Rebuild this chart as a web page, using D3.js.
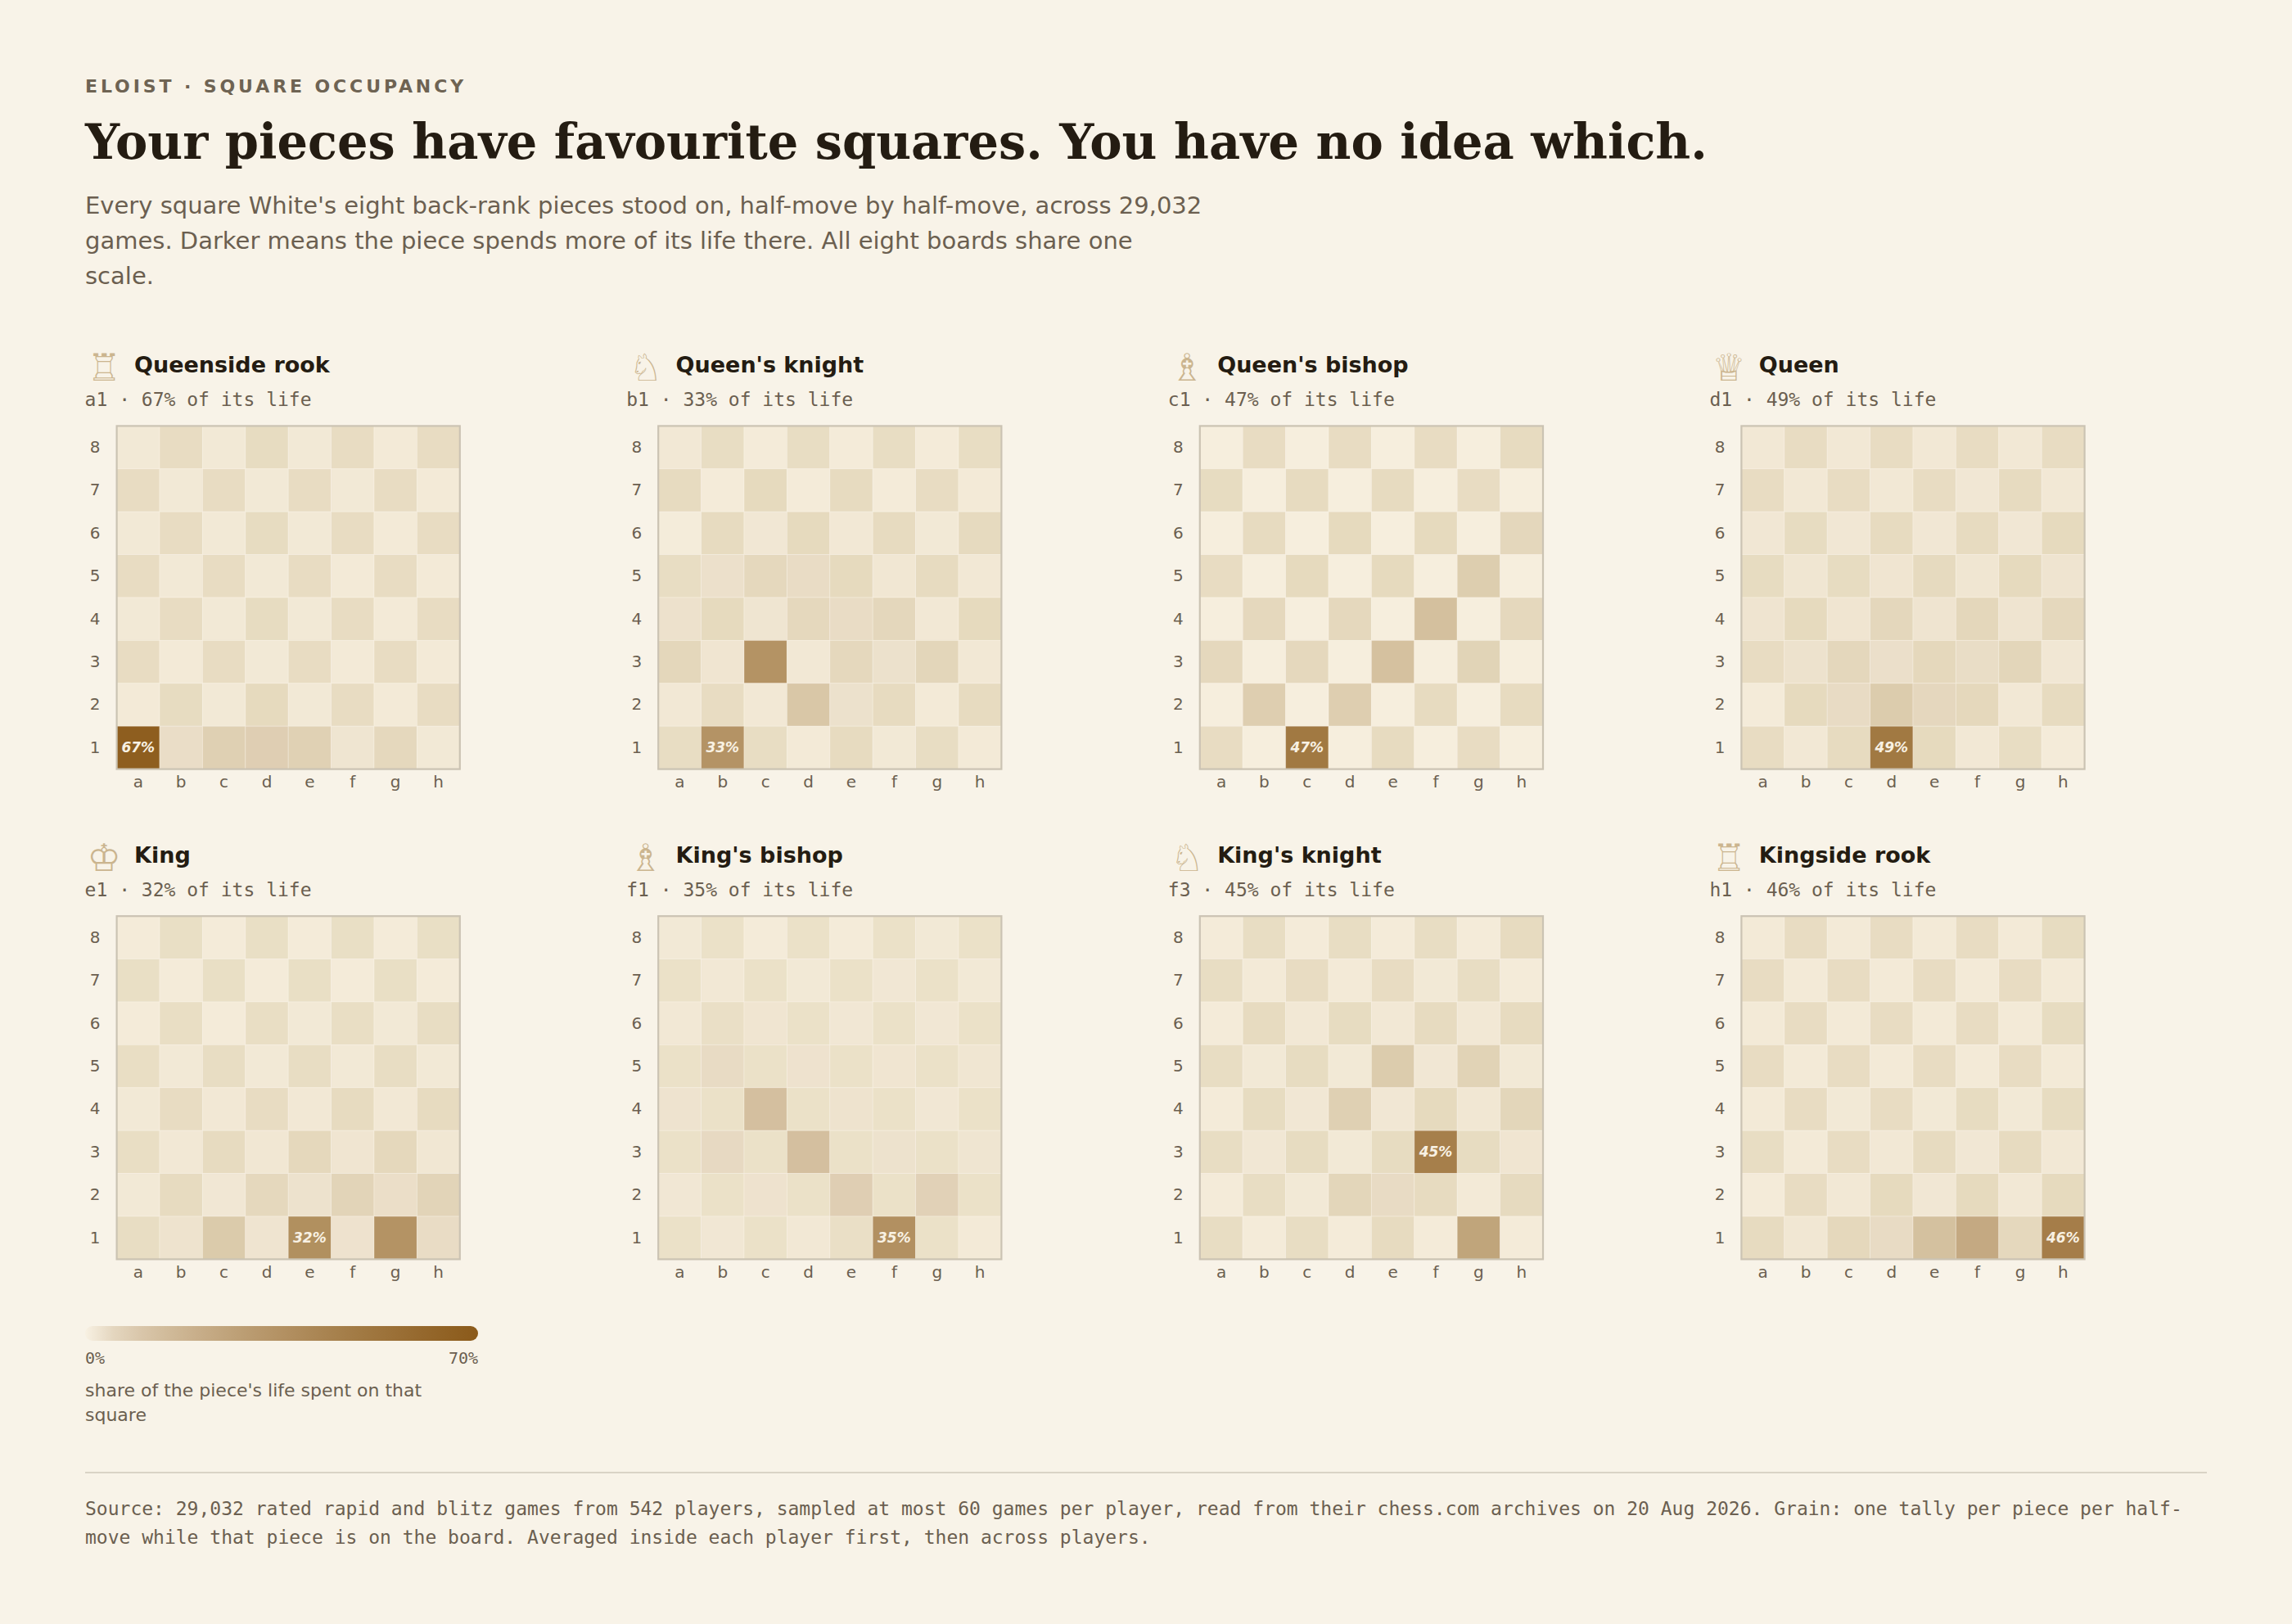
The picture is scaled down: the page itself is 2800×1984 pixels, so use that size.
<!DOCTYPE html>
<html>
<head>
<meta charset="utf-8">
<script src="https://cdn.jsdelivr.net/npm/d3@7"></script>
<style>
html,body{margin:0;padding:0;background:#f8f3e8;}
svg{display:block;}
</style>
</head>
<body>
<svg id="chart"></svg>
<script>
// ---------- DATA ----------
const files = ["a","b","c","d","e","f","g","h"];
const ranks = [8,7,6,5,4,3,2,1];

const pieceNames = ["Queenside rook","Queen's knight","Queen's bishop","Queen","King","King's bishop","King's knight","Kingside rook"];
const pieceGlyphs = ["\u2656","\u2658","\u2657","\u2655","\u2654","\u2657","\u2658","\u2656"];

// share of life (%) per square, rows = rank 8 .. rank 1, columns = files a .. h
const queensideRook = [
  0.4,0.4,0.4,0.5,0.4,0.4,0.3,0.4,
  0.4,0.4,0.4,0.4,0.4,0.4,0.4,0.3,
  0.4,0.4,0.4,0.5,0.4,0.4,0.3,0.4,
  0.4,0.4,0.4,0.4,0.4,0.3,0.4,0.3,
  0.4,0.4,0.4,0.5,0.4,0.4,0.3,0.4,
  0.4,0.3,0.4,0.4,0.4,0.3,0.4,0.3,
  0.3,0.5,0.4,0.8,0.4,0.4,0.3,0.4,
  67,2.4,2.8,6.5,2.6,1.0,1.0,0.4
];
const queensKnight = [
  0.5,0.3,0.2,0.3,0.2,0.3,0.2,0.3,
  0.6,0.2,0.8,0.2,0.6,0.2,0.4,0.3,
  0.1,0.6,0.6,0.8,0.5,0.6,0.4,0.7,
  0.3,1.8,1.0,2.7,0.8,0.7,0.6,0.5,
  1.6,0.8,1.0,1.0,2.7,1.2,0.5,0.8,
  1.3,0.9,30,0.5,1.0,1.7,1.4,0.5,
  0.5,0.4,0.5,5.4,1.7,0.6,0.3,0.6,
  0.3,33,0.3,0.3,0.6,0.4,0.3,0.3
];
const queensBishop = [
  0,0.4,0,0.4,0,0.4,0,0.6,
  0.5,0,0.6,0,0.6,0,0.4,0,
  0,0.6,0,0.8,0,0.8,0,1.2,
  0.4,0,0.8,0,0.8,0,3.5,0,
  0,1.0,0,1.0,0,8,0,1.0,
  1.0,0,1.0,0,7.5,0,2.0,0,
  0,3.4,0,3.4,0,0.6,0,0.6,
  0.4,0,47,0,0.6,0,0.4,0
];
const queen = [
  0.5,0.4,0.5,0.4,0.5,0.4,0.5,0.4,
  0.4,0.5,0.4,0.5,0.4,0.6,0.6,0.5,
  0.6,0.5,0.6,0.6,0.6,0.6,0.6,0.8,
  0.5,0.8,0.5,0.9,0.7,0.8,0.8,1.1,
  1.1,0.8,0.9,1.2,1.1,1.3,1.1,1.0,
  0.4,1.5,1.2,2.0,1.1,2.6,1.4,0.6,
  0.2,0.8,3.0,4.0,4.1,1.1,0.5,0.6,
  0.4,0.5,0.6,49,0.8,0.5,0.3,0.2
];
const king = [
  0.15,0.15,0.15,0.15,0.15,0.15,0.15,0.15,
  0.15,0.15,0.15,0.15,0.15,0.15,0.15,0.15,
  0.15,0.2,0.15,0.2,0.4,0.2,0.4,0.3,
  0.2,0.4,0.3,0.4,0.3,0.4,0.3,0.4,
  0.4,0.4,0.5,0.4,0.5,0.6,0.5,0.6,
  0.2,0.5,0.6,0.7,1.1,0.9,1.1,0.7,
  0.4,0.6,0.6,1.0,1.5,1.8,2.2,1.8,
  0.3,1.3,4.4,1.1,32,1.4,30,2.7
];
const kingsBishop = [
  0.4,0,0.15,0,0.2,0,0.4,0,
  0,0.5,0,0.4,0,0.6,0,0.4,
  0.5,0.1,0.9,0,0.6,0,0.6,0,
  0,3.0,0,1.4,0,0.9,0,0.8,
  1.2,0,12,0,1.3,0,0.6,0,
  0,3.4,0,12,0,1.5,0,1.0,
  0.6,0,1.4,0,6.6,0,5.7,0,
  0,0.6,0,0.5,0.1,35,0,0.3
];
const kingsKnight = [
  0.2,0.3,0.2,0.3,0.2,0.3,0.2,0.6,
  0.3,0.3,0.4,0.3,0.4,0.4,0.3,0.2,
  0.2,0.6,0.5,0.5,0.5,0.6,0.5,0.6,
  0.3,0.4,0.5,0.4,4.0,0.6,2.1,0.4,
  0.2,0.5,0.6,2.8,0.6,0.8,0.7,1.4,
  0.3,0.6,0.5,0.4,0.5,45,0.5,0.9,
  0.2,0.3,0.4,1.5,3.0,0.6,0.3,0.7,
  0.3,0.2,0.3,0.2,0.6,0.2,20,0.2
];
const kingsideRook = [
  0.3,0.4,0.3,0.4,0.3,0.4,0.3,0.5,
  0.4,0.3,0.4,0.3,0.4,0.3,0.4,0.3,
  0.3,0.4,0.3,0.4,0.3,0.4,0.3,0.5,
  0.4,0.3,0.4,0.3,0.4,0.3,0.4,0.3,
  0.3,0.4,0.4,0.4,0.4,0.5,0.4,0.5,
  0.3,0.3,0.4,0.5,0.6,0.6,0.6,0.5,
  0.2,0.4,0.5,0.8,0.6,0.8,0.5,0.8,
  0.6,0.7,1.1,3.0,7.6,21.7,1.0,46
];
const boards = [queensideRook, queensKnight, queensBishop, queen, king, kingsBishop, kingsKnight, kingsideRook];

const legendTicks = ["0%","70%"];
const subtitleLines = [
  "Every square White's eight back-rank pieces stood on, half-move by half-move, across 29,032",
  "games. Darker means the piece spends more of its life there. All eight boards share one",
  "scale."
];
const legendLabelLines = ["share of the piece's life spent on that","square"];
const footerLines = [
  "Source: 29,032 rated rapid and blitz games from 542 players, sampled at most 60 games per player, read from their chess.com archives on 20 Aug 2026. Grain: one tally per piece per half-",
  "move while that piece is on the board. Averaged inside each player first, then across players."
];

// ---------- STYLE ----------
const W = 1400, H = 992;
const BG = "#f8f3e8";
const LIGHT_BASE = "#f6eedd", DARK_BASE = "#ebe1c8", LEGEND_BASE = "#f8f1e3", TOP = "#8b5a1a";
const INK = "#241c12", MUTED = "#6b5f50";
const SANS = "'DejaVu Sans', sans-serif", SERIF = "'DejaVu Serif', serif", MONO = "'DejaVu Sans Mono', monospace";

const svg = d3.select("#chart")
  .attr("width", 2800).attr("height", 1984)
  .attr("viewBox", `0 0 ${W} ${H}`);
svg.append("rect").attr("width", W).attr("height", H).attr("fill", BG);

// header
svg.append("text").attr("x", 52).attr("y", 56.5)
  .attr("font-family", SANS).attr("font-weight", "bold").attr("font-size", 11)
  .attr("letter-spacing", 1.95).attr("fill", "#6e6353")
  .text("ELOIST \u00b7 SQUARE OCCUPANCY");
svg.append("text").attr("x", 52).attr("y", 97)
  .attr("font-family", SERIF).attr("font-weight", "bold").attr("font-size", 29.5)
  .attr("fill", INK)
  .text("Your pieces have favourite squares. You have no idea which.");
svg.append("g").selectAll("text").data(subtitleLines).join("text")
  .attr("x", 52).attr("y", (d, i) => 130.5 + i * 21.6)
  .attr("font-family", SANS).attr("font-size", 14.5).attr("fill", MUTED)
  .text(d => d);

// scales
const tScale = d3.scalePow().exponent(0.65).domain([0, 70]).range([0, 1]).clamp(true);
const BOARD = 209.6;
const x = d3.scaleBand().domain(files).range([0, BOARD]);
const y = d3.scaleBand().domain(ranks).range([0, BOARD]);
const colX = d3.scaleLinear().domain([0, 3]).range([71.3, 71.3 + 3 * 330.8]);
const rowY = d3.scaleLinear().domain([0, 1]).range([260.2, 559.6]);

const cellColor = (v, dark) => d3.interpolateRgb(dark ? DARK_BASE : LIGHT_BASE, TOP)(tScale(v));

boards.forEach((vals, i) => {
  const bx = colX(i % 4), by = rowY(Math.floor(i / 4));
  const cells = vals.map((v, k) => {
    const fi = k % 8, ri = Math.floor(k / 8);
    const rank = ranks[ri];
    return { file: files[fi], rank, v, dark: (fi + rank) % 2 === 1 };
  });
  const peak = cells.reduce((a, b) => (b.v > a.v ? b : a));

  const g = svg.append("g").attr("transform", `translate(${bx},${by})`);

  // header
  g.append("text").attr("x", -18).attr("y", -27.5)
    .attr("font-family", SANS).attr("font-size", 23)
    .attr("fill", "#cbb58f")
    .text(pieceGlyphs[i]);
  g.append("text").attr("x", 10.7).attr("y", -32.8)
    .attr("font-family", SANS).attr("font-weight", "bold").attr("font-size", 13.5)
    .attr("fill", INK).text(pieceNames[i]);
  g.append("text").attr("x", -19.5).attr("y", -12)
    .attr("font-family", MONO).attr("font-size", 11.5).attr("fill", MUTED)
    .text(`${peak.file}${peak.rank} \u00b7 ${Math.round(peak.v)}% of its life`);

  // cells
  g.append("g").selectAll("rect").data(cells).join("rect")
    .attr("x", d => x(d.file)).attr("y", d => y(d.rank))
    .attr("width", x.bandwidth()).attr("height", y.bandwidth())
    .attr("fill", d => cellColor(d.v, d.dark))
    .attr("stroke", "#fbf7ef").attr("stroke-opacity", 0.35).attr("stroke-width", 0.5);

  // border
  g.append("rect").attr("x", 0).attr("y", 0).attr("width", BOARD).attr("height", BOARD)
    .attr("fill", "none").attr("stroke", "#cbc3b3").attr("stroke-width", 1.1);

  // peak label
  g.append("text")
    .attr("x", x(peak.file) + x.bandwidth() / 2)
    .attr("y", y(peak.rank) + y.bandwidth() / 2)
    .attr("dy", "0.35em").attr("text-anchor", "middle")
    .attr("font-family", SANS).attr("font-weight", "bold").attr("font-style", "italic")
    .attr("font-size", 8.5).attr("fill", "#f8f1e3")
    .text(`${Math.round(peak.v)}%`);

  // axes
  const ax = g.append("g").call(d3.axisLeft(y).tickSize(0).tickPadding(10));
  const bx2 = g.append("g").attr("transform", `translate(0,${BOARD})`)
    .call(d3.axisBottom(x).tickSize(0).tickPadding(4));
  [ax, bx2].forEach(a => {
    a.select(".domain").remove();
    a.selectAll("text").attr("font-family", SANS).attr("font-size", 10).attr("fill", MUTED);
  });
});

// legend
const defs = svg.append("defs");
const grad = defs.append("linearGradient").attr("id", "lg").attr("x1", "0%").attr("x2", "100%");
d3.range(0, 71, 5).forEach(v => {
  grad.append("stop").attr("offset", `${v / 70 * 100}%`)
    .attr("stop-color", d3.interpolateRgb(LEGEND_BASE, TOP)(tScale(v)));
});
const legX = d3.scaleLinear().domain([0, 70]).range([52, 292]);
svg.append("rect").attr("x", legX(0)).attr("y", 810).attr("width", legX(70) - legX(0)).attr("height", 9)
  .attr("rx", 4.5).attr("fill", "url(#lg)");
svg.append("g").selectAll("text").data(legendTicks).join("text")
  .attr("x", (d, i) => legX(i === 0 ? 0 : 70))
  .attr("y", 833).attr("text-anchor", (d, i) => i === 0 ? "start" : "end")
  .attr("font-family", MONO).attr("font-size", 10).attr("fill", MUTED)
  .text(d => d);
svg.append("g").selectAll("text").data(legendLabelLines).join("text")
  .attr("x", 52).attr("y", (d, i) => 853 + i * 15)
  .attr("font-family", SANS).attr("font-size", 11).attr("fill", MUTED)
  .text(d => d);

// footer
svg.append("line").attr("x1", 52).attr("x2", 1348).attr("y1", 899.5).attr("y2", 899.5)
  .attr("stroke", "#d9d3c6").attr("stroke-width", 1);
svg.append("g").selectAll("text").data(footerLines).join("text")
  .attr("x", 52).attr("y", (d, i) => 925.5 + i * 17.5)
  .attr("font-family", MONO).attr("font-size", 11.5).attr("fill", MUTED)
  .text(d => d);
</script>
</body>
</html>
